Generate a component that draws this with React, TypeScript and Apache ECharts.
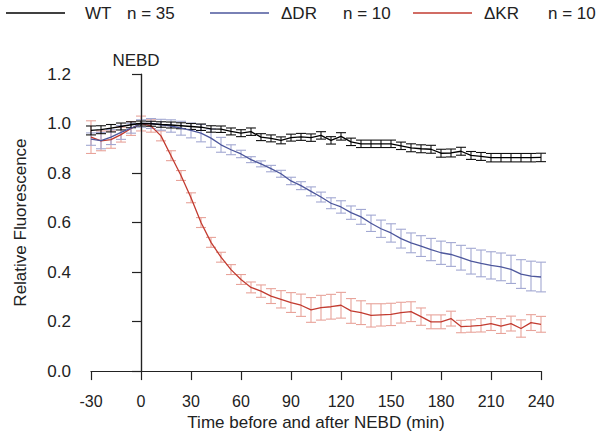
import React, { useEffect, useRef } from "react";
import * as echarts from "echarts";

const times = [-30, -24, -18, -12, -6, 0, 6, 12, 18, 24, 30, 36, 42, 48, 54, 60, 66, 72, 78, 84, 90, 96, 102, 108, 114, 120, 126, 132, 138, 144, 150, 156, 162, 168, 174, 180, 186, 192, 198, 204, 210, 216, 222, 228, 234, 240];

const wtMean = [0.972, 0.975, 0.981, 0.988, 0.995, 1.0, 0.999, 0.996, 0.994, 0.991, 0.988, 0.985, 0.978, 0.977, 0.968, 0.961, 0.967, 0.945, 0.94, 0.932, 0.943, 0.946, 0.943, 0.952, 0.932, 0.948, 0.926, 0.918, 0.918, 0.918, 0.918, 0.91, 0.902, 0.898, 0.896, 0.88, 0.881, 0.888, 0.871, 0.867, 0.862, 0.862, 0.862, 0.862, 0.862, 0.863];
const wtErr = [0.018, 0.016, 0.015, 0.014, 0.012, 0.01, 0.01, 0.011, 0.012, 0.012, 0.012, 0.013, 0.013, 0.013, 0.014, 0.014, 0.015, 0.014, 0.014, 0.014, 0.014, 0.014, 0.015, 0.015, 0.015, 0.015, 0.015, 0.015, 0.015, 0.015, 0.015, 0.015, 0.016, 0.016, 0.016, 0.016, 0.016, 0.016, 0.016, 0.016, 0.017, 0.017, 0.017, 0.017, 0.017, 0.017];

const drMean = [0.937, 0.931, 0.945, 0.964, 0.981, 1.0, 1.0, 0.995, 0.99, 0.981, 0.972, 0.961, 0.941, 0.914, 0.894, 0.877, 0.854, 0.837, 0.818, 0.797, 0.768, 0.749, 0.726, 0.703, 0.678, 0.663, 0.64, 0.623, 0.597, 0.575, 0.558, 0.535, 0.518, 0.505, 0.491, 0.478, 0.471, 0.458, 0.444, 0.435, 0.427, 0.421, 0.411, 0.392, 0.384, 0.38];
const drErr = [0.025, 0.033, 0.03, 0.028, 0.02, 0.015, 0.02, 0.022, 0.025, 0.028, 0.03, 0.035, 0.037, 0.03, 0.02, 0.015, 0.012, 0.012, 0.013, 0.014, 0.015, 0.016, 0.018, 0.02, 0.022, 0.025, 0.027, 0.03, 0.033, 0.035, 0.037, 0.038, 0.04, 0.042, 0.045, 0.047, 0.048, 0.05, 0.052, 0.054, 0.055, 0.056, 0.057, 0.058, 0.06, 0.06];

const krMean = [0.945, 0.93, 0.935, 0.955, 0.98, 1.0, 0.99, 0.95, 0.87, 0.79, 0.7, 0.6, 0.52, 0.46, 0.41, 0.37, 0.338, 0.323, 0.303, 0.29, 0.277, 0.266, 0.247, 0.256, 0.26, 0.266, 0.243, 0.236, 0.225, 0.227, 0.229, 0.236, 0.24, 0.22, 0.199, 0.199, 0.212, 0.18, 0.182, 0.185, 0.192, 0.182, 0.192, 0.172, 0.196, 0.189];
const krErr = [0.066, 0.04, 0.035, 0.03, 0.028, 0.03, 0.025, 0.02, 0.02, 0.02, 0.02, 0.02, 0.02, 0.02, 0.02, 0.02, 0.022, 0.025, 0.03, 0.035, 0.04, 0.045, 0.05, 0.05, 0.05, 0.052, 0.05, 0.048, 0.047, 0.045, 0.045, 0.042, 0.04, 0.035, 0.028, 0.028, 0.03, 0.025, 0.025, 0.027, 0.028, 0.03, 0.03, 0.035, 0.032, 0.032];

const xTicks = { min: -30, max: 240, interval: 30 };
const yTicks = { min: 0, max: 1.2, interval: 0.2 };

const legendItems = [
  { name: "WT", n: "n = 35" },
  { name: "\u0394DR", n: "n = 10" },
  { name: "\u0394KR", n: "n = 10" },
];

const FONT = "'Liberation Sans', Arial, Helvetica, sans-serif";
const TXT = "#222";

const seriesDefs = [
  { key: "KR", mean: krMean, err: krErr, line: "#c23b30", bar: "#e8a39a", z: 2 },
  { key: "DR", mean: drMean, err: drErr, line: "#4d579c", bar: "#a2a8d2", z: 3 },
  { key: "WT", mean: wtMean, err: wtErr, line: "#000000", bar: "#111111", z: 4 },
];

function errorSeries(def: any) {
  const data = times.map((t, i) => [t, def.mean[i] - def.err[i], def.mean[i] + def.err[i]]);
  return {
    type: "custom",
    name: def.key + " SE",
    z: def.z,
    data,
    encode: { x: 0, y: [1, 2] },
    renderItem: (params: any, api: any) => {
      const x = api.value(0);
      const lo = api.coord([x, api.value(1)]);
      const hi = api.coord([x, api.value(2)]);
      const hw = 5;
      const st = { stroke: def.bar, lineWidth: 1.1 };
      return {
        type: "group",
        children: [
          { type: "line", shape: { x1: lo[0], y1: lo[1], x2: hi[0], y2: hi[1] }, style: st },
          { type: "line", shape: { x1: lo[0] - hw, y1: lo[1], x2: lo[0] + hw, y2: lo[1] }, style: st },
          { type: "line", shape: { x1: hi[0] - hw, y1: hi[1], x2: hi[0] + hw, y2: hi[1] }, style: st },
        ],
      };
    },
    silent: true,
  };
}

function lineSeries(def: any) {
  return {
    type: "line",
    name: def.key,
    z: def.z + 1,
    data: times.map((t, i) => [t, def.mean[i]]),
    symbol: "none",
    lineStyle: { color: def.line, width: 1.3 },
    itemStyle: { color: def.line },
  };
}

export default function App() {
  const ref = useRef<HTMLDivElement>(null);
  useEffect(() => {
    document.body.style.margin = "0";
    if (!ref.current) return;
    const chart = echarts.init(ref.current, null, { renderer: "svg" });

    const legendColors = ["#000000", "#4d579c", "#c23b30"];
    const legendLineX = [6, 210, 413];
    const legendNameX = [85, 281, 484];
    const legendNX = [127, 343, 548];
    const graphic: any[] = [];
    legendItems.forEach((it, i) => {
      graphic.push({
        type: "line",
        shape: { x1: legendLineX[i], y1: 13, x2: legendLineX[i] + 59, y2: 13 },
        style: { stroke: legendColors[i], lineWidth: 1.3 },
      });
      graphic.push({
        type: "text",
        x: legendNameX[i],
        y: 13,
        style: { text: it.name, font: `17px ${FONT}`, fill: TXT, textVerticalAlign: "middle" },
      });
      graphic.push({
        type: "text",
        x: legendNX[i],
        y: 13,
        style: { text: it.n, font: `17px ${FONT}`, fill: TXT, textVerticalAlign: "middle" },
      });
    });

    const series: any[] = [];
    seriesDefs.forEach((d) => series.push(errorSeries(d)));
    seriesDefs.forEach((d) => series.push(lineSeries(d)));
    series.push({
      type: "line",
      name: "NEBD",
      data: [],
      markLine: {
        silent: true,
        symbol: "none",
        animation: false,
        lineStyle: { color: "#222", width: 1.2, type: "solid" },
        label: {
          show: true,
          position: "end",
          formatter: "NEBD",
          color: TXT,
          fontSize: 17,
          fontFamily: FONT,
          distance: 5,
          offset: [-5, 0],
        },
        data: [{ xAxis: 0 }],
      },
    });

    chart.setOption({
      animation: false,
      backgroundColor: "#ffffff",
      grid: { left: 91, right: 60, top: 74, bottom: 64, containLabel: false },
      xAxis: {
        type: "value",
        min: xTicks.min,
        max: xTicks.max,
        interval: xTicks.interval,
        name: "Time before and after NEBD (min)",
        nameLocation: "middle",
        nameGap: 40,
        nameTextStyle: { color: TXT, fontSize: 17, fontFamily: FONT },
        axisLine: { show: true, onZero: false, lineStyle: { color: "#222", width: 1.2 } },
        axisTick: { show: true, length: 9, lineStyle: { color: "#222", width: 1.2 } },
        axisLabel: { color: TXT, fontSize: 16, fontFamily: FONT, margin: 22 },
        splitLine: { show: false },
      },
      yAxis: {
        type: "value",
        min: yTicks.min,
        max: yTicks.max,
        interval: yTicks.interval,
        name: "Relative Fluorescence",
        nameLocation: "middle",
        nameGap: 62,
        nameTextStyle: { color: TXT, fontSize: 17, fontFamily: FONT },
        axisLine: { show: true, lineStyle: { color: "#222", width: 1.2 } },
        axisTick: { show: true, length: 9, lineStyle: { color: "#222", width: 1.2 } },
        axisLabel: {
          color: TXT,
          fontSize: 17,
          fontFamily: FONT,
          margin: 20,
          formatter: (v: number) => v.toFixed(1),
        },
        splitLine: { show: false },
      },
      graphic,
      series,
    });
    return () => chart.dispose();
  }, []);
  return <div ref={ref} style={{ width: 601, height: 436 }} />;
}
